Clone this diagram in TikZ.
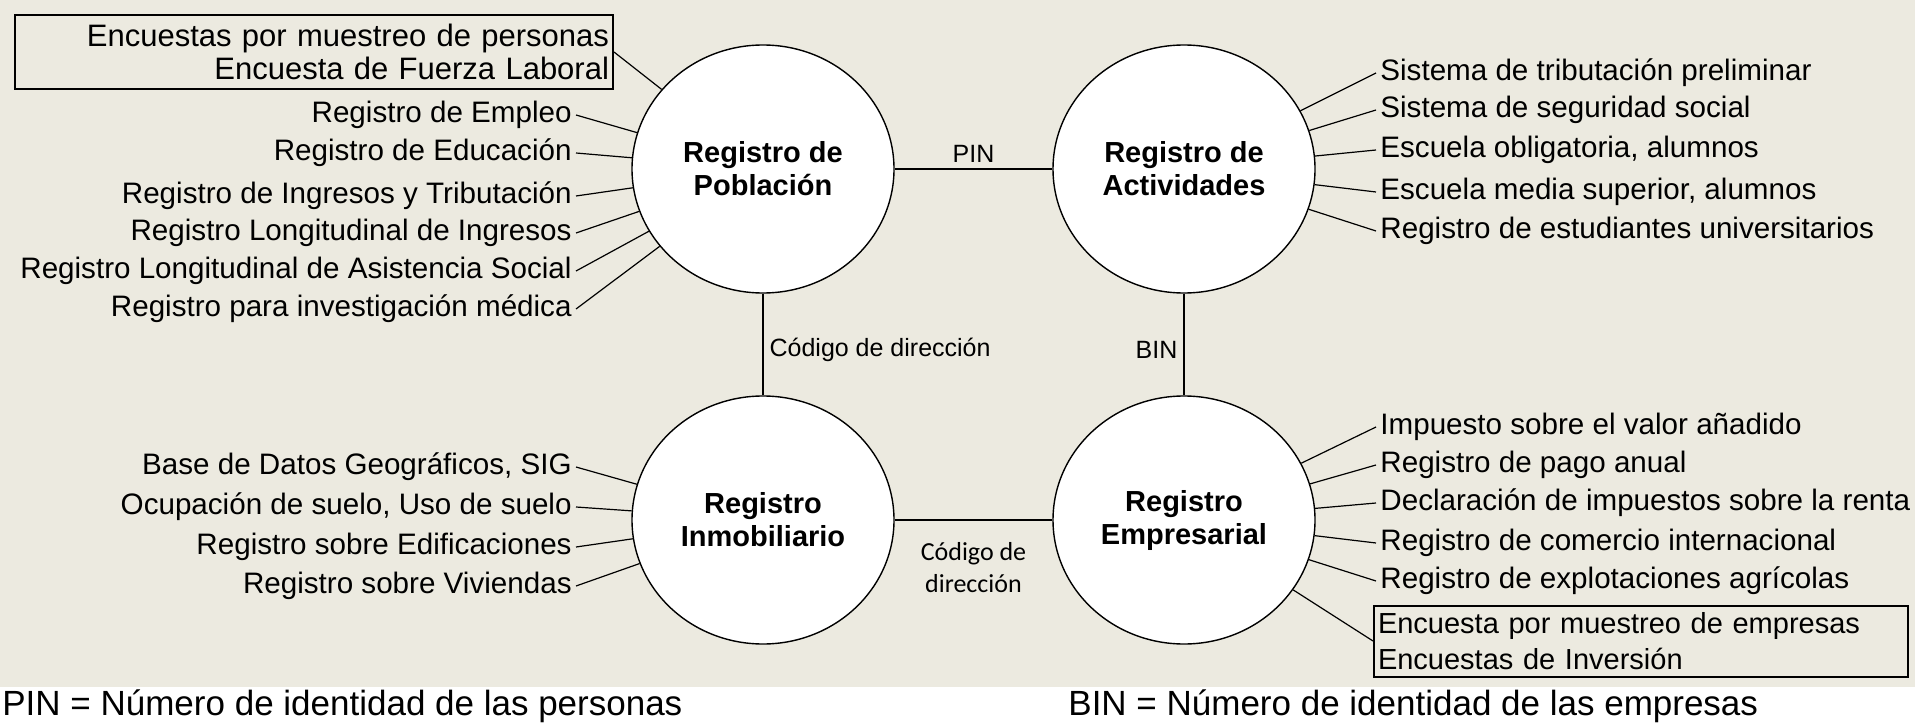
\documentclass[tikz,border=0pt]{standalone}
\usepackage{fontspec}
\setmainfont{Liberation Sans}
\newfontfamily\carlito{Carlito}
\usetikzlibrary{shapes.geometric}
\definecolor{fondo}{RGB}{236,234,224}

\begin{document}
\begin{tikzpicture}[x=0.5pt,y=-0.5pt,
    registro/.style={ellipse,draw,fill=white,line width=0.7pt,
      minimum width=131pt,minimum height=124pt,inner sep=0pt,align=center,
      font=\bfseries\fontsize{14.5}{16.5}\selectfont},
    fuente/.style={inner sep=2pt,font=\fontsize{14.8}{17}\selectfont},
    izq/.style={fuente,anchor=east},
    der/.style={fuente,anchor=west},
    caja/.style={draw,line width=1pt,inner sep=2pt},
    enlace/.style={line width=0.6pt},
    rotulo/.style={inner sep=3pt,font=\fontsize{12.5}{15}\selectfont},
    nota/.style={anchor=base west,inner sep=0pt,font=\fontsize{17.5}{20}\selectfont}]
  \useasboundingbox (0,0) rectangle (1915,727);
  \fill[fondo] (0,0) rectangle (1915,687);
  % registros
  \node[registro] (pob) at (763,169) {Registro de\\Población};
  \node[registro] (act) at (1184,169) {Registro de\\Actividades};
  \node[registro] (inm) at (763,520) {Registro\\Inmobiliario};
  \node[registro] (emp) at (1184,520) {Registro\\Empresarial};
  % enlaces entre registros
  \draw[enlace] (pob.east) -- node[rotulo,above] {PIN} (act.west);
  \draw[enlace] (pob.south) -- node[rotulo,right,pos=0.55] {Código de dirección} (inm.north);
  \draw[enlace] (act.south) -- node[rotulo,left,pos=0.55] {BIN} (emp.north);
  \draw[enlace] (inm.east) -- node[below,inner sep=5pt,yshift=-6pt,align=center,
    font=\carlito\fontsize{13}{16}\selectfont] {Código de\\dirección} (emp.west);
  % fuentes de poblacion
  \node[caja,anchor=east,text width=295pt,minimum height=37pt,align=right,
    font=\fontsize{15.5}{16.5}\selectfont] (encp) at (614,52)
    {Encuestas por muestreo de personas\\Encuesta de Fuerza Laboral};
  \node[izq] (p1) at (576,115) {Registro de Empleo};
  \node[izq] (p2) at (576,153) {Registro de Educación};
  \node[izq] (p3) at (576,196) {Registro de Ingresos y Tributación};
  \node[izq] (p4) at (576,233) {Registro Longitudinal de Ingresos};
  \node[izq] (p5) at (576,271) {Registro Longitudinal de Asistencia Social};
  \node[izq] (p6) at (576,309) {Registro para investigación médica};
  % fuentes de actividades
  \node[der] (a1) at (1376,73) {Sistema de tributación preliminar};
  \node[der] (a2) at (1376,110) {Sistema de seguridad social};
  \node[der] (a3) at (1376,150) {Escuela obligatoria, alumnos};
  \node[der] (a4) at (1376,192) {Escuela media superior, alumnos};
  \node[der] (a5) at (1376,231) {Registro de estudiantes universitarios};
  % fuentes inmobiliarias
  \node[izq] (i1) at (576,467) {Base de Datos Geográficos, SIG};
  \node[izq] (i2) at (576,507) {Ocupación de suelo, Uso de suelo};
  \node[izq] (i3) at (576,547) {Registro sobre Edificaciones};
  \node[izq] (i4) at (576,586) {Registro sobre Viviendas};
  % fuentes empresariales
  \node[der] (e1) at (1376,427) {Impuesto sobre el valor añadido};
  \node[der] (e2) at (1376,465) {Registro de pago anual};
  \node[der] (e3) at (1376,503) {Declaración de impuestos sobre la renta};
  \node[der] (e4) at (1376,543) {Registro de comercio internacional};
  \node[der] (e5) at (1376,581) {Registro de explotaciones agrícolas};
  \node[caja,anchor=west,text width=263pt,minimum height=35.5pt,align=left,
    font=\fontsize{14.5}{18}\selectfont] (ence) at (1373,641)
    {Encuesta por muestreo de empresas\\Encuestas de Inversión};
  % ramas
  \draw[enlace] (encp.east) -- (pob);
  \draw[enlace] (p1.east) -- (pob);
  \draw[enlace] (p2.east) -- (pob);
  \draw[enlace] (p3.east) -- (pob);
  \draw[enlace] (p4.east) -- (pob);
  \draw[enlace] (p5.east) -- (pob);
  \draw[enlace] (p6.east) -- (pob);
  \draw[enlace] (a1.west) -- (act);
  \draw[enlace] (a2.west) -- (act);
  \draw[enlace] (a3.west) -- (act);
  \draw[enlace] (a4.west) -- (act);
  \draw[enlace] (a5.west) -- (act);
  \draw[enlace] (i1.east) -- (inm);
  \draw[enlace] (i2.east) -- (inm);
  \draw[enlace] (i3.east) -- (inm);
  \draw[enlace] (i4.east) -- (inm);
  \draw[enlace] (e1.west) -- (emp);
  \draw[enlace] (e2.west) -- (emp);
  \draw[enlace] (e3.west) -- (emp);
  \draw[enlace] (e4.west) -- (emp);
  \draw[enlace] (e5.west) -- (emp);
  \draw[enlace] (ence.west) -- (emp);
  % notas
  \node[nota] (notapin) at (2,715) {PIN = Número de identidad de las personas};
  \node[nota] (notabin) at (1068,715) {BIN = Número de identidad de las empresas};
\end{tikzpicture}
\end{document}
